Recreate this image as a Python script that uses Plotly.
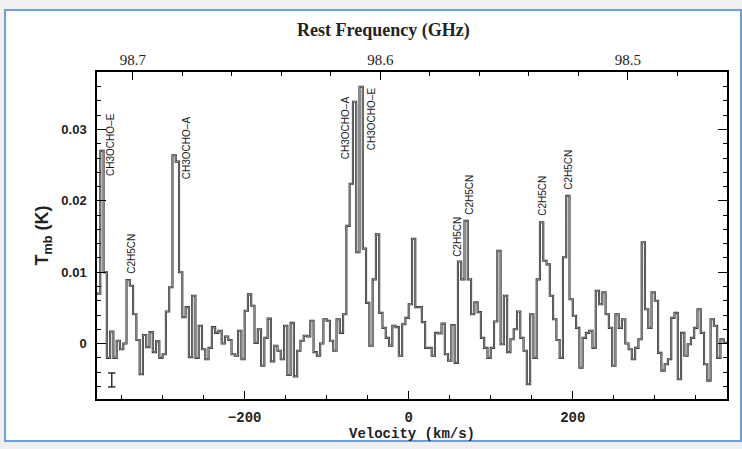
import numpy as np
import plotly.graph_objects as go

# ---------------- data ----------------
V_START = -380.0          # km/s, left edge of first channel
CHANNEL_WIDTH = 4.0       # km/s

# main-beam temperature per channel, in mK
TMB_MK = [
    7, 27, 10, -2, 1.7, -2, 0.4, -0.8, 0, 8.9,
    8.1, 4.1, 0.5, -4.3, 1.2, -0.5, 1.6, -1.2, 0.3, -2,
    -1.5, 4.5, 7.9, 26.4, 25.5, 10, 3.7, 5.1, -1.9, 6.7,
    -2, 2.5, -0.8, -2.2, -0.6, 2.3, 1.5, 1.8, 0, 1,
    0.5, -1.5, -1.7, 1.8, -2.2, 4.6, 6.9, 5.3, 0.1, 2.0,
    -3.1, 0.8, 3.5, -2.5, -0.3, -1.0, -2.2, 2.5, -4.4, 2.9,
    -4.6, -1, 0.4, 1.1, 1.0, 3.2, -1.2, -1.7, 0, 3.4,
    3.2, 0.4, -1, 3.4, 1.5, 4.1, 16.5, 22.4, 33.9, 12.8,
    36.0, 13.3, 5.7, -0.3, 9.0, 15.3, 4.3, 2.2, 0.8, -0.3,
    2.5, 2.3, -1.7, 2.7, 3.6, 5.5, 14.7, 5.1, 5.1, 3.0,
    -0.6, -0.6, -1.7, 1.5, 1.4, 2.8, -1.5, -2.4, 2.6, -2.7,
    11.5, 9.0, 17.2, 9.0, 4.1, 5.8, 4.4, 0.8, -0.6, -2.0,
    -0.6, 3.1, 13.0, -0.1, 6.7, -1.2, 0.6, 2.0, 4.5, 0.8,
    -1.0, -5.7, 4.1, -2.0, 9.0, 17.0, 11.6, 11.1, 6.7, 3.4,
    0.5, -2.0, 12.1, 20.7, 6.2, 3.9, 2.2, -3.4, 0.8, 1.5,
    1.8, -0.6, 7.4, 5.5, 7.2, 4.1, 2.2, -3.1, 4.1, 2.2,
    3.4, 0, -0.8, -2.2, -0.6, 0.6, 14.2, 4.8, 2.2, 7.2,
    6.0, -1.3, -3.8, -2.9, -2.2, 3.6, 4.3, -5.0, 1.5, -1.7,
    -0.1, 0.8, 2.2, 4.8, 1.5, -2.9, -5.2, 3.4, 2.5, -2.0,
    0.6, 0.1,
]

LINE_LABELS = ["CH3OCHO–E", "C2H5CN", "CH3OCHO–A", "CH3OCHO–A", "CH3OCHO–E",
               "C2H5CN", "C2H5CN", "C2H5CN", "C2H5CN"]
LABEL_VELOCITY = [-362.8, -337.2, -271.3, -76.2, -44.5, 59.1, 73.8, 162.8, 194.5]
LABEL_BASE_K = [0.0233, 0.00965, 0.02285, 0.02566, 0.02692, 0.01204, 0.01794, 0.0178, 0.02145]

VEL_RANGE = [-380.0, 388.0]
TMB_RANGE = [-0.00777, 0.03806]
FREQ_RANGE = [98.7145, 98.4600]   # GHz, top axis (decreasing to the right)

# ---------------- build ----------------
n = len(TMB_MK)
tmb = np.array(TMB_MK) / 1000.0
edges = V_START + CHANNEL_WIDTH * np.arange(n + 1)
x_step = edges
y_step = np.append(tmb, tmb[-1])

fig = go.Figure()
fig.add_trace(go.Scatter(x=x_step, y=y_step, mode="lines", line_shape="hv",
                         line=dict(color="#2a2a2a", width=2.1),
                         showlegend=False, hoverinfo="skip"))
fig.add_trace(go.Scatter(x=x_step, y=y_step, mode="lines", line_shape="hv",
                         line=dict(color="#d2d2d2", width=0.6),
                         showlegend=False, hoverinfo="skip"))
# invisible trace to carry the top (frequency) axis
fig.add_trace(go.Scatter(x=FREQ_RANGE, y=[0, 0], xaxis="x2", mode="lines",
                         line=dict(width=0), opacity=0, showlegend=False,
                         hoverinfo="skip"))

for txt, v, b in zip(LINE_LABELS, LABEL_VELOCITY, LABEL_BASE_K):
    fig.add_annotation(x=v, y=b, text=txt, textangle=-90, showarrow=False,
                       xanchor="center", yanchor="bottom", borderpad=0,
                       font=dict(family="Liberation Sans", size=10, color="#1a1a1a"))

# top axis title (sits slightly left of the axis centre in the original)
fig.add_annotation(xref="paper", yref="paper", x=(383 - 97) / 630, y=(399 - 30) / 327,
                   text="Rest Frequency (GHz)", showarrow=False,
                   xanchor="center", yanchor="middle",
                   font=dict(family="Liberation Serif", size=18, color="#222", weight="bold"))

# sigma bar "I" at lower left
sig_v, sig_lo, sig_hi, cap = -362.0, -0.00608, -0.00412, 4.5
for sh in [dict(x0=sig_v, x1=sig_v, y0=sig_lo, y1=sig_hi),
           dict(x0=sig_v - cap, x1=sig_v + cap, y0=sig_lo, y1=sig_lo),
           dict(x0=sig_v - cap, x1=sig_v + cap, y0=sig_hi, y1=sig_hi)]:
    fig.add_shape(type="line", xref="x", yref="y", line=dict(color="#222", width=1.4), **sh)

# outer screenshot frame
fig.add_shape(type="rect", xref="paper", yref="paper", layer="below",
              x0=(5 - 97) / 630, x1=(741 - 97) / 630,
              y0=(399 - 441) / 327, y1=(399 - 10) / 327,
              fillcolor="white", line=dict(color="#6f9fd8", width=2))

fig.update_layout(
    width=742, height=449,
    margin=dict(l=97, r=15, t=72, b=50),
    paper_bgcolor="#f0f0f0", plot_bgcolor="rgba(0,0,0,0)",
    xaxis=dict(range=VEL_RANGE, showgrid=False, zeroline=False,
               showline=True, linecolor="black", linewidth=1.5, mirror=True,
               ticks="inside", tick0=0, dtick=200, ticklen=8, tickwidth=1.2, tickcolor="black",
               minor=dict(dtick=50, ticks="inside", ticklen=4, tickwidth=1.1, tickcolor="black"),
               tickfont=dict(family="Liberation Mono", size=14, color="#222", weight="bold"),
               ticklabelstandoff=4,
               title=dict(text="Velocity (km/s)", standoff=1,
                          font=dict(family="Liberation Mono", size=14, color="#222", weight="bold"))),
    xaxis2=dict(range=FREQ_RANGE, overlaying="x", side="top", showgrid=False, zeroline=False,
                showline=False, ticks="inside", tick0=98.5, dtick=0.1, tickformat=".1f",
                ticklen=8, tickwidth=1.2, tickcolor="black",
                minor=dict(dtick=0.02, ticks="inside", ticklen=4, tickwidth=1.1, tickcolor="black"),
                tickfont=dict(family="Liberation Serif", size=15, color="#222"),
                ticklabelstandoff=3),
    yaxis=dict(range=TMB_RANGE, showgrid=False, zeroline=False,
               showline=True, linecolor="black", linewidth=1.5, mirror="ticks",
               ticks="inside", tick0=0, dtick=0.01, ticklen=9, tickwidth=1.2, tickcolor="black",
               minor=dict(dtick=0.002, ticks="inside", ticklen=4, tickwidth=1.1, tickcolor="black"),
               tickfont=dict(family="Liberation Sans", size=13, color="#222", weight="bold"),
               ticklabelstandoff=6,
               title=dict(text="T<sub>mb</sub> (K)", standoff=8,
                          font=dict(family="Liberation Sans", size=18, color="#222", weight="bold"))),
)

fig.write_html("out.html")
